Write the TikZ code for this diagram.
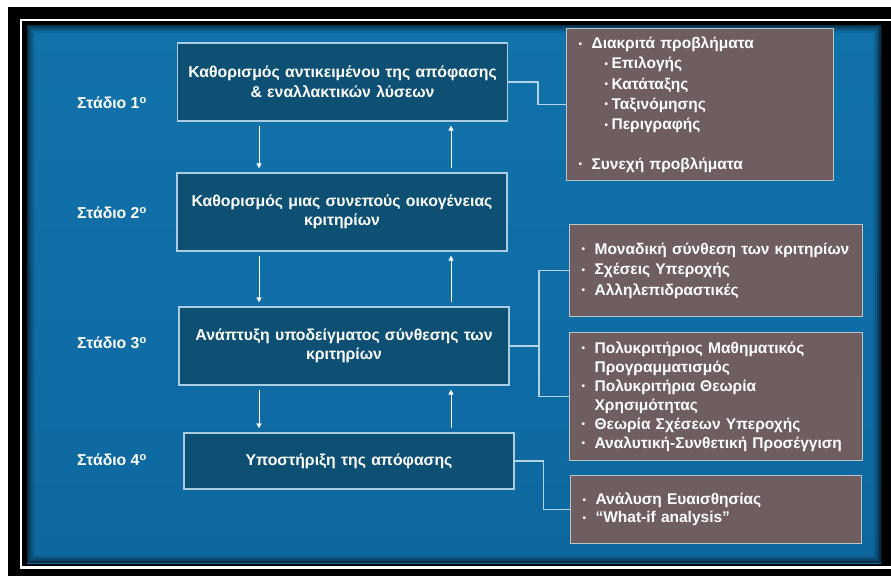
\documentclass[tikz,border=0pt]{standalone}
\usepackage{fontspec}
\setmainfont{Liberation Sans}
\usepackage{xcolor}
\usepackage{tikz}
\usetikzlibrary{arrows.meta}
\usetikzlibrary{calc}
\definecolor{slidemid}{RGB}{28,137,194}
\definecolor{slidetop}{RGB}{18,114,170}
\definecolor{slidebot}{RGB}{14,104,160}
\definecolor{boxfill}{RGB}{14,80,116}
\definecolor{boxline}{RGB}{170,205,225}
\definecolor{infofill}{RGB}{110,94,95}
\definecolor{infoline}{RGB}{185,195,202}
\definecolor{linkline}{RGB}{178,212,230}
\newcommand{\bl}{\makebox[13pt][l]{\raisebox{1.5pt}{\fontsize{10}{10}\selectfont •}}}
\newcommand{\sbl}{\makebox[7pt][l]{\raisebox{1.5pt}{\fontsize{10}{10}\selectfont •}}}
\newcommand{\ind}{\hspace*{13pt}}
\tikzset{
    stagebox/.style={draw=boxline, line width=1.2pt, fill=boxfill, text=white,
        font=\bfseries\fontsize{15.8}{19.5}\selectfont, align=center,
        minimum width=330pt, minimum height=#1, text width=316pt, inner sep=0pt},
    stagebox/.default=78pt,
    infobox/.style={draw=infoline, line width=1.2pt, fill=infofill, text=white,
        font=\bfseries\fontsize{15.5}{20.3}\selectfont, align=left,
        anchor=north west, inner xsep=12pt, inner ysep=0pt},
    stagelbl/.style={text=white, font=\bfseries\fontsize{15.8}{17}\selectfont},
    link/.style={draw=linkline, line width=1.3pt},
    flow/.style={draw=white, line width=0.9pt, -{Triangle[length=5pt,width=5pt]},
        shorten <=4pt, shorten >=4pt}
}

\begin{document}
\begin{tikzpicture}[x=1pt,y=-1pt]
    \useasboundingbox (0,0) rectangle (891,576);
    \fill[white] (0,0) rectangle (891,576);
    \fill[black] (8,7) rectangle (891,576);
    \draw[white, line width=2.6pt] (21,20) rectangle (895,567.5);
    \shade[top color=slidetop, middle color=slidemid, bottom color=slidebot] (27,25) rectangle (881,563);
    \foreach \w/\o in {1/0.55,3/0.35,5/0.2,7/0.08}
        \draw[black, opacity=\o, line width=2pt] ($(27,25)+(\w,\w)$) rectangle ($(881,563)-(\w,\w)$);

    \node[stagelbl] (lbl1) at (112,103) {Στάδιο 1\textsuperscript{ο}};
    \node[stagelbl] (lbl2) at (112,213) {Στάδιο 2\textsuperscript{ο}};
    \node[stagelbl] (lbl3) at (112,343) {Στάδιο 3\textsuperscript{ο}};
    \node[stagelbl] (lbl4) at (112,460) {Στάδιο 4\textsuperscript{ο}};

    \node[stagebox] (box1) at (342.5,82) {Καθορισμός αντικειμένου της απόφασης\\ \& εναλλακτικών λύσεων};
    \node[stagebox] (box2) at (342,212) {Καθορισμός μιας συνεπούς οικογένειας\\ κριτηρίων};
    \node[stagebox] (box3) at (344,346) {Ανάπτυξη υποδείγματος σύνθεσης των\\ κριτηρίων};
    \node[stagebox=56pt] (box4) at (349,461) {Υποστήριξη της απόφασης};

    \node[infobox, minimum width=267pt, minimum height=152pt, text width=243pt] (info1) at (566,28)
        {\bl Διακριτά προβλήματα\\
         \hspace*{26pt}\sbl Επιλογής\\
         \hspace*{26pt}\sbl Κατάταξης\\
         \hspace*{26pt}\sbl Ταξινόμησης\\
         \hspace*{26pt}\sbl Περιγραφής\\[19pt]
         \bl Συνεχή προβλήματα};
    \node[infobox, minimum width=293pt, minimum height=92pt, text width=269pt] (info2) at (569,224)
        {\bl Μοναδική σύνθεση των κριτηρίων\\
         \bl Σχέσεις Υπεροχής\\
         \bl Αλληλεπιδραστικές};
    \node[infobox, minimum width=293pt, minimum height=128pt, text width=269pt,
        font=\bfseries\fontsize{15.5}{19}\selectfont] (info3) at (569,332)
        {\bl Πολυκριτήριος Μαθηματικός\\
         \ind Προγραμματισμός\\
         \bl Πολυκριτήρια Θεωρία\\
         \ind Χρησιμότητας\\
         \bl Θεωρία Σχέσεων Υπεροχής\\
         \bl Αναλυτική-Συνθετική Προσέγγιση};
    \node[infobox, minimum width=291pt, minimum height=68pt, text width=267pt,
        font=\bfseries\fontsize{15.5}{18}\selectfont] (info4) at (570,475)
        {\bl Ανάλυση Ευαισθησίας\\
         \bl “What-if analysis”};

    \coordinate (dn) at (259,0);
    \coordinate (up) at (451,0);
    \coordinate (brk) at (539,0);
    \draw[flow] (box1.south -| dn) -- (box2.north -| dn);
    \draw[flow] (box2.north -| up) -- (box1.south -| up);
    \draw[flow] (box2.south -| dn) -- (box3.north -| dn);
    \draw[flow] (box3.north -| up) -- (box2.south -| up);
    \draw[flow] (box3.south -| dn) -- (box4.north -| dn);
    \draw[flow] (box4.north -| up) -- (box3.south -| up);

    \draw[link] (box1.east) -- ++(30,0) |- (info1.west);
    \draw[link] (info2.west) -| (brk |- box3.east) |- (info3.west);
    \draw[link] (box3.east) -- (brk |- box3.east);
    \draw[link] (box4.east) -- ++(29,0) |- (info4.west);
\end{tikzpicture}
\end{document}
